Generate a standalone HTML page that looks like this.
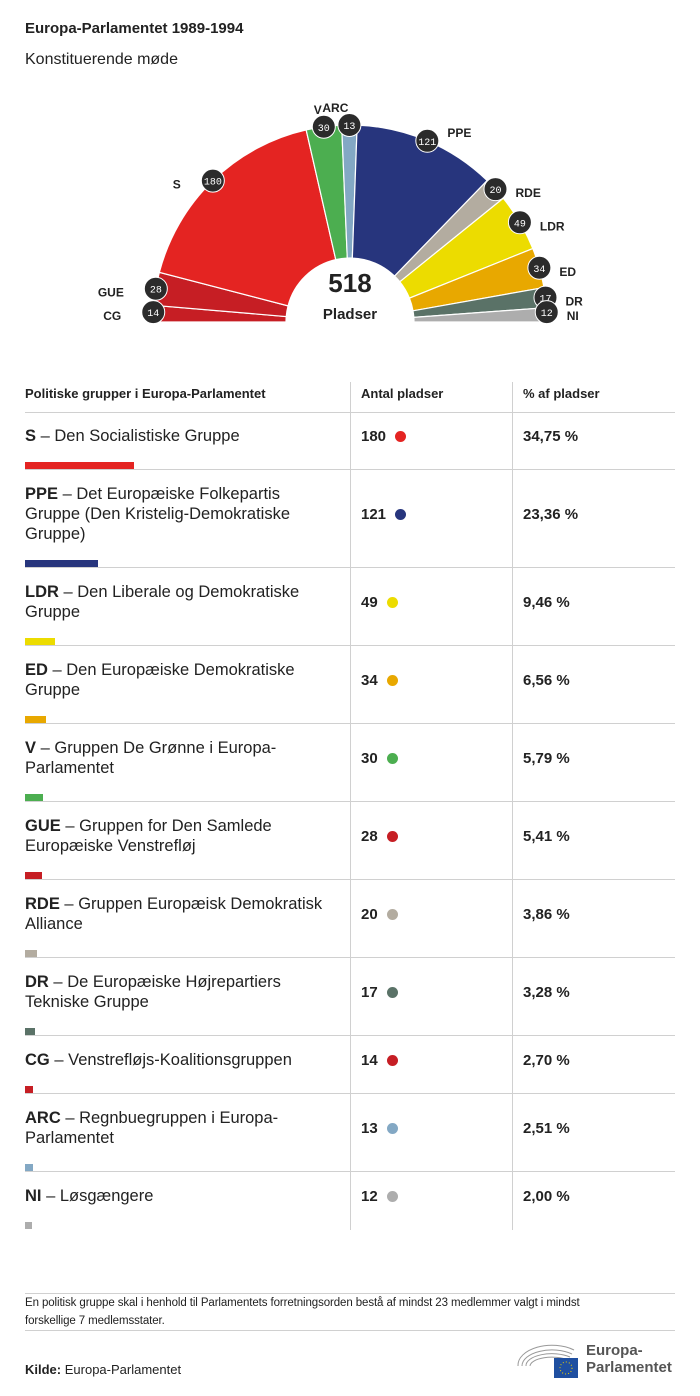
<!DOCTYPE html>
<html><head><meta charset="utf-8">
<style>
body{margin:0;background:#fff;font-family:"Liberation Sans",sans-serif;color:#222;}
#wrap{position:relative;width:700px;height:1396px;overflow:hidden;}
.abs{position:absolute;}
.row{position:absolute;left:25px;width:650px;border-bottom:1px solid #d0d0d0;}
.c1{position:absolute;left:0;width:305px;font-size:16.5px;line-height:20px;}
.c2{position:absolute;left:336px;font-size:15px;font-weight:bold;}
.c3{position:absolute;left:498px;font-size:15px;font-weight:bold;}
.dot{display:inline-block;width:11px;height:11px;border-radius:50%;margin-left:9px;vertical-align:-1px;}
.vl{position:absolute;width:1px;background:#d0d0d0;top:382px;height:848px;}
</style></head><body>
<div id="wrap">
<div class="abs" style="left:25px;top:20px;font-size:15px;font-weight:bold;">Europa-Parlamentet 1989-1994</div>
<div class="abs" style="left:25px;top:51px;font-size:16px;">Konstituerende møde</div>
<svg class="abs" style="left:0;top:80px" width="700" height="270" id="chart"></svg>
<div class="abs" style="left:25px;top:386px;font-size:13px;font-weight:bold;">Politiske grupper i Europa-Parlamentet</div>
<div class="abs" style="left:361px;top:386px;font-size:13px;font-weight:bold;">Antal pladser</div>
<div class="abs" style="left:523px;top:386px;font-size:13px;font-weight:bold;">% af pladser</div>
<div class="abs" style="left:25px;top:412px;width:650px;height:1px;background:#d0d0d0"></div>
<div class="vl" style="left:350px"></div>
<div class="vl" style="left:512px"></div>
<div id="table"></div>
<div class="abs" style="left:25px;top:1293px;width:650px;height:1px;background:#d0d0d0"></div>
<div class="abs" style="left:25px;top:1294px;font-size:11.5px;line-height:18px;width:640px;letter-spacing:-0.1px;">En politisk gruppe skal i henhold til Parlamentets forretningsorden bestå af mindst 23 medlemmer valgt i mindst<br>forskellige 7 medlemsstater.</div>
<div class="abs" style="left:25px;top:1330px;width:650px;height:1px;background:#d0d0d0"></div>
<div class="abs" style="left:25px;top:1362px;font-size:13px;"><b>Kilde:</b> Europa-Parlamentet</div>
<svg class="abs" style="left:514px;top:1340px" width="70" height="40">
<g fill="none" stroke="#999" stroke-width="1"><path d="M4 26 A34 20 0 0 1 60 10"/><path d="M8 26 A30 16 0 0 1 58 14"/><path d="M12 26 A26 12 0 0 1 56 17"/><path d="M16 26 A22 9 0 0 1 54 20"/></g>
<rect x="40" y="18" width="24" height="20" fill="#1f4fa0"/><circle cx="52" cy="28" r="6" fill="none" stroke="#f2d400" stroke-dasharray="1 2.1"/></svg>
<div class="abs" style="left:586px;top:1342px;font-size:15px;font-weight:bold;color:#555;line-height:17px;">Europa-<br>Parlamentet</div>
</div>
<script>
const groups=["CG","GUE","S","V","ARC","PPE","RDE","LDR","ED","DR","NI"];
const seats=[14,28,180,30,13,121,20,49,34,17,12];
const colors=["#c61e24","#c61e24","#e42422","#4cae50","#83a8c4","#27357d","#b3aca0","#ecdc00","#e8a800","#5a7267","#adadad"];
const ns="http://www.w3.org/2000/svg";
const svg=document.getElementById('chart');
const cx=350,cy=242,R=197,r=64;
const total=seats.reduce((a,b)=>a+b,0);
function pt(a,rad){return [cx-rad*Math.cos(a),cy-rad*Math.sin(a)];}
let acc=0;
seats.forEach((v,i)=>{
 const a0=acc/total*Math.PI, a1=(acc+v)/total*Math.PI; acc+=v;
 const p0=pt(a0,R),p1=pt(a1,R),q1=pt(a1,r),q0=pt(a0,r);
 const p=document.createElementNS(ns,'path');
 p.setAttribute('d',`M${p0[0]} ${p0[1]} A${R} ${R} 0 0 1 ${p1[0]} ${p1[1]} L${q1[0]} ${q1[1]} A${r} ${r} 0 0 0 ${q0[0]} ${q0[1]} Z`);
 p.setAttribute('fill',colors[i]);p.setAttribute('stroke','#fff');p.setAttribute('stroke-width','1.2');
 
 
 svg.appendChild(p);
});
acc=0;
seats.forEach((v,i)=>{
 let am=(acc+v/2)/total*Math.PI; acc+=v;
 if(am<0.3)am=Math.max(am,0.05);
 if(am>Math.PI-0.3)am=Math.min(am,Math.PI-0.05);
 const b=pt(am,R);
 const c=document.createElementNS(ns,'circle');
 c.setAttribute('cx',b[0]);c.setAttribute('cy',b[1]);c.setAttribute('r',11.5);
 c.setAttribute('fill','#2b2b2b');c.setAttribute('stroke','#fff');c.setAttribute('stroke-width','1');
 
 
 svg.appendChild(c);
 const t=document.createElementNS(ns,'text');
 t.setAttribute('x',b[0]);t.setAttribute('y',b[1]+4);t.setAttribute('text-anchor','middle');
 t.setAttribute('font-family','Liberation Mono, monospace');t.setAttribute('font-size','10');t.setAttribute('fill','#fff');
 t.textContent=v;
 
 
 svg.appendChild(t);
 let lx,ly=b[1]+8,anchor;
 const g=groups[i];
 if(g==="V"){lx=b[0]-10;ly=b[1]-13;anchor='start';}
 else if(g==="ARC"){lx=b[0]-27;ly=b[1]-13;anchor='start';}
 else if(b[0]<cx){lx=b[0]-32;anchor='end';}
 else{lx=b[0]+20;anchor='start';if(g==="PPE")ly=b[1]-4;}
 const lt=document.createElementNS(ns,'text');
 lt.setAttribute('x',lx);lt.setAttribute('y',ly);lt.setAttribute('text-anchor',anchor);
 lt.setAttribute('font-family','Liberation Sans, sans-serif');lt.setAttribute('font-size','12');lt.setAttribute('font-weight','bold');lt.setAttribute('fill','#222');
 lt.textContent=g;
 
 
 svg.appendChild(lt);
});
const tc=document.createElementNS(ns,'text');
tc.setAttribute('x',cx);tc.setAttribute('y',cy-30);tc.setAttribute('text-anchor','middle');tc.setAttribute('font-size','26');tc.setAttribute('font-weight','bold');tc.setAttribute('font-family','Liberation Sans, sans-serif');tc.setAttribute('fill','#222');tc.textContent=total;


svg.appendChild(tc);
const tp=document.createElementNS(ns,'text');
tp.setAttribute('x',cx);tp.setAttribute('y',cy-3);tp.setAttribute('text-anchor','middle');tp.setAttribute('font-size','15');tp.setAttribute('font-weight','bold');tp.setAttribute('font-family','Liberation Sans, sans-serif');tp.setAttribute('fill','#222');tp.textContent='Pladser';


svg.appendChild(tp);

const tGroups=["S","PPE","LDR","ED","V","GUE","RDE","DR","CG","ARC","NI"];
const tNames=["Den Socialistiske Gruppe","Det Europæiske Folkepartis Gruppe (Den Kristelig-Demokratiske Gruppe)","Den Liberale og Demokratiske Gruppe","Den Europæiske Demokratiske Gruppe","Gruppen De Grønne i Europa-Parlamentet","Gruppen for Den Samlede Europæiske Venstrefløj","Gruppen Europæisk Demokratisk Alliance","De Europæiske Højrepartiers Tekniske Gruppe","Venstrefløjs-Koalitionsgruppen","Regnbuegruppen i Europa-Parlamentet","Løsgængere"];
const tSeats=[180,121,49,34,30,28,20,17,14,13,12];
const tPct=["34,75 %","23,36 %","9,46 %","6,56 %","5,79 %","5,41 %","3,86 %","3,28 %","2,70 %","2,51 %","2,00 %"];
const tColors=["#e42422","#27357d","#ecdc00","#e8a800","#4cae50","#c61e24","#b3aca0","#5a7267","#c61e24","#83a8c4","#adadad"];
const bounds=[412,470,568,646,724,802,880,958,1036,1094,1172,1230];
const table=document.getElementById('table');
tGroups.forEach((g,i)=>{
 const top=bounds[i],h=bounds[i+1]-top;
 const row=document.createElement('div');row.className='row';
 row.style.top=top+'px';row.style.height=(h-1)+'px';
 if(i==tGroups.length-1)row.style.borderBottom='none';
 
 
 const c1=document.createElement('div');c1.className='c1';c1.style.top='14px';
 c1.innerHTML='<b>'+g+'</b> – '+tNames[i];
 row.appendChild(c1);
 const bar=document.createElement('div');bar.style.cssText='position:absolute;left:0;height:7px;bottom:0;background:'+tColors[i]+';width:'+(tSeats[i]*0.605)+'px';
 
 
 row.appendChild(bar);
 const mid=Math.round(h/2-13);
 const c2=document.createElement('div');c2.className='c2';c2.style.top=mid+'px';
 c2.innerHTML=tSeats[i]+'<span class="dot" style="background:'+tColors[i]+'"></span>';
 row.appendChild(c2);
 const c3=document.createElement('div');c3.className='c3';c3.style.top=mid+'px';c3.textContent=tPct[i];
 row.appendChild(c3);
 table.appendChild(row);
});
</script>
</body></html>
